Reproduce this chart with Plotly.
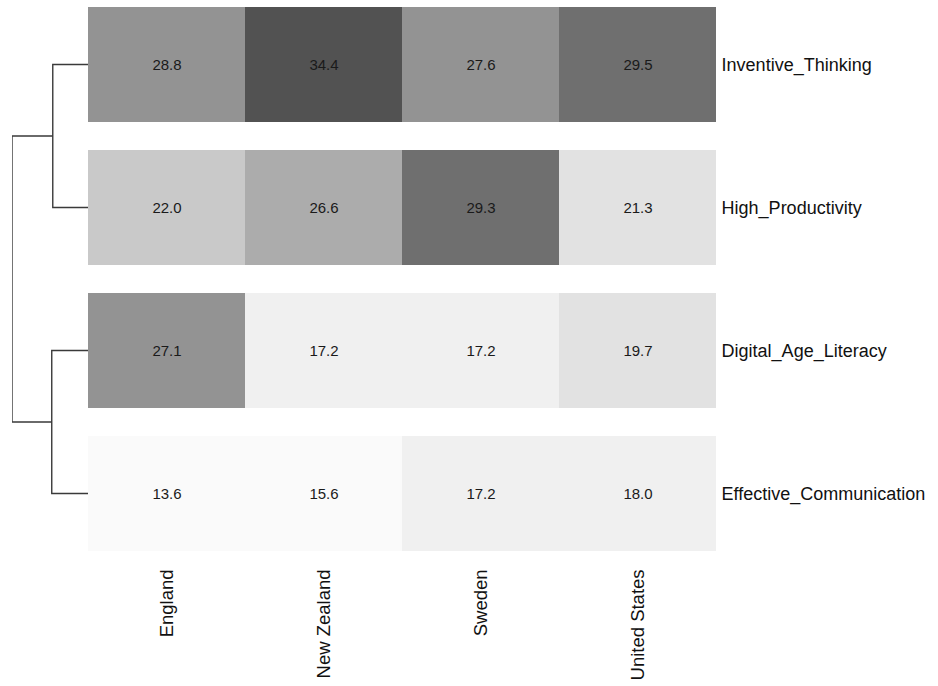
import numpy as np
import plotly.graph_objects as go

# ---- data ----
rows = ["Inventive_Thinking", "High_Productivity", "Digital_Age_Literacy", "Effective_Communication"]
countries = ["England", "New Zealand", "Sweden", "United States"]
inventive_thinking = [28.8, 34.4, 27.6, 29.5]
high_productivity = [22.0, 26.6, 29.3, 21.3]
digital_age_literacy = [27.1, 17.2, 17.2, 19.7]
effective_communication = [13.6, 15.6, 17.2, 18.0]

# stepped grey colour bins (bounds in data units) and colours
bin_edges = [13.6, 16.3, 18.8, 21.7, 24.0, 26.9, 29.1, 32.3, 34.4]
bin_colors = ["#fafafa", "#f0f0f0", "#e2e2e2", "#c9c9c9", "#acacac", "#939393", "#6f6f6f", "#525252"]

z = np.array([inventive_thinking, high_productivity, digital_age_literacy, effective_communication])
zmin, zmax = bin_edges[0], bin_edges[-1]
colorscale = []
for i, c in enumerate(bin_colors):
    a = (bin_edges[i] - zmin) / (zmax - zmin)
    b = (bin_edges[i + 1] - zmin) / (zmax - zmin)
    colorscale.append([a, c])
    colorscale.append([b, c])

# ---- complete-linkage heights for the fixed tree ((0,1),(2,3)) ----
def dist(a, b):
    return float(np.sqrt(((z[a] - z[b]) ** 2).sum()))

h01 = dist(0, 1)
h23 = dist(2, 3)
hroot = max(dist(i, j) for i in (0, 1) for j in (2, 3))

W, H = 938, 686
x0_px, x1_px = 88, 716
top_px, bot_px = 7, 551
gap = 28
n = len(rows)
pitch = (bot_px - top_px + gap) / n
half = (gap / 2) / pitch

fig = go.Figure()
fig.add_trace(go.Heatmap(
    z=z, x=list(range(len(countries))), y=list(range(n)),
    colorscale=colorscale, zmin=zmin, zmax=zmax, showscale=False,
    ygap=gap, texttemplate="%{z:.1f}",
    textfont=dict(size=15, color="#1a1a1a", family="Liberation Sans, Arial"),
    hoverinfo="skip",
))

# dendrogram
dx = [0, h01, h01, 0, None, 0, h23, h23, 0, None, h01, hroot, hroot, h23]
dy = [0, 0, 1, 1, None, 2, 2, 3, 3, None, 0.5, 0.5, 2.5, 2.5]
fig.add_trace(go.Scatter(x=dx, y=dy, mode="lines", xaxis="x2", yaxis="y",
                         line=dict(color="#3a3a3a", width=1.4), hoverinfo="skip",
                         showlegend=False))

fig.update_layout(
    width=W, height=H,
    margin=dict(l=0, r=0, t=top_px, b=H - bot_px),
    paper_bgcolor="white", plot_bgcolor="white",
    font=dict(family="Liberation Sans, Arial", color="#222222"),
    showlegend=False,
    xaxis=dict(domain=[x0_px / W, x1_px / W], range=[-0.5, len(countries) - 0.5],
               tickvals=list(range(len(countries))), ticktext=countries,
               tickangle=-90, ticks="outside", ticklen=10, tickcolor="rgba(0,0,0,0)",
               showgrid=False, zeroline=False, showline=False,
               tickfont=dict(size=18.5, color="#111111")),
    yaxis=dict(domain=[0, 1], range=[n - 0.5 - half, -0.5 + half],
               side="right", anchor="x",
               tickvals=list(range(n)), ticktext=rows,
               ticks="outside", ticklen=1, tickcolor="rgba(0,0,0,0)",
               showgrid=False, zeroline=False, showline=False,
               tickfont=dict(size=18, color="#111111")),
    xaxis2=dict(domain=[12 / W, x0_px / W], range=[hroot, 0], anchor="y",
                showgrid=False, zeroline=False, showline=False, showticklabels=False,
                ticks=""),
)

fig.write_html("out.html", config={"displayModeBar": False},
               post_script="document.body.style.margin='0';document.body.style.overflow='hidden';")
